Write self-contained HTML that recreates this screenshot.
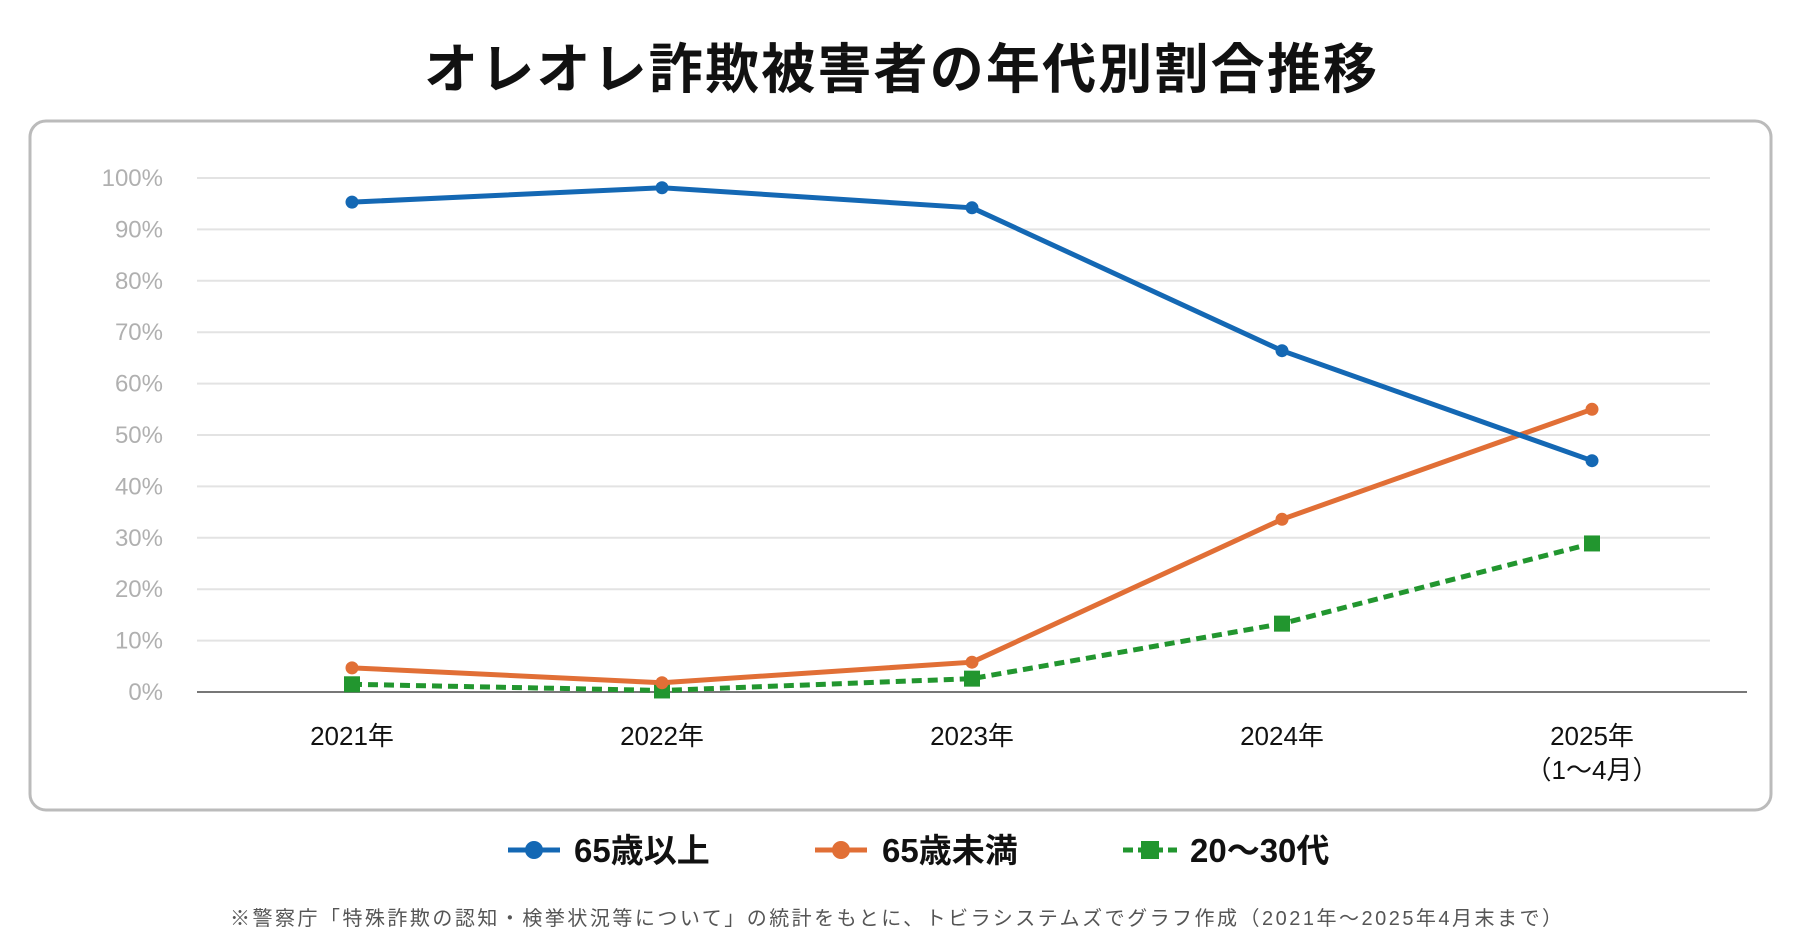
<!DOCTYPE html>
<html><head><meta charset="utf-8"><style>
body{margin:0;width:1800px;height:945px;background:#fff;overflow:hidden;font-family:"Liberation Sans","Noto Sans CJK JP",sans-serif;}
</style></head><body>
<svg width="1800" height="945" xmlns="http://www.w3.org/2000/svg" font-family="Liberation Sans, Noto Sans CJK JP, sans-serif">
<text x="424" y="88" textLength="953" lengthAdjust="spacing" font-size="54" font-weight="bold" fill="#111">オレオレ詐欺被害者の年代別割合推移</text>
<rect x="30" y="121" width="1741" height="689" rx="16" fill="#fff" stroke="#bbb" stroke-width="3"/>
<g id="grid"></g><g id="lines"></g>
<g font-size="33" font-weight="bold" fill="#111">
<g><line x1="508" y1="850" x2="560" y2="850" stroke="#1468b4" stroke-width="5"/><circle cx="534" cy="850" r="9" fill="#1468b4"/><text x="574" y="862">65歳以上</text></g>
<g><line x1="815" y1="850" x2="867" y2="850" stroke="#e16f36" stroke-width="5"/><circle cx="841" cy="850" r="9" fill="#e16f36"/><text x="882" y="862">65歳未満</text></g>
<g><line x1="1123" y1="850" x2="1177" y2="850" stroke="#22962f" stroke-width="5" stroke-dasharray="10,5"/><rect x="1141" y="841" width="18" height="18" fill="#22962f"/><text x="1190" y="862">20～30代</text></g>
</g>
<text x="230" y="925" textLength="1332" lengthAdjust="spacing" font-size="20" fill="#555">※警察庁「特殊詐欺の認知・検挙状況等について」の統計をもとに、トビラシステムズでグラフ作成（2021年～2025年4月末まで）</text>
</svg>
<script>
const categories=["2021年","2022年","2023年","2024年","2025年"];
const subLabels=["","","","","（1～4月）"];
const over65=[95.3,98.1,94.2,66.4,45.0];
const under65=[4.7,1.8,5.8,33.6,55.0];
const age2030=[1.5,0.3,2.6,13.3,28.9];
const yTicks=[0,10,20,30,40,50,60,70,80,90,100];
const NS="http://www.w3.org/2000/svg";
const x=i=>352+i*310;
const y=v=>692-v*5.14;
function mk(tag,attrs,parent){const e=document.createElementNS(NS,tag);for(const k in attrs)e.setAttribute(k,attrs[k]);parent.appendChild(e);return e;}
const grid=document.getElementById('grid');
yTicks.forEach(t=>{
 if(t>0){const g=mk('line',{x1:197,x2:1710,y1:y(t),y2:y(t),stroke:'#e3e3e3','stroke-width':2},grid);
 
 }
 const tx=mk('text',{x:163,y:y(t)+8,'text-anchor':'end','font-size':24,fill:'#b0b0b0'},grid);
 tx.textContent=t+'%';
 
 
});
const ax=mk('line',{x1:197,x2:1747,y1:y(0),y2:y(0),stroke:'#777','stroke-width':2},grid);


categories.forEach((c,i)=>{
 const t=mk('text',{x:x(i),y:745,'text-anchor':'middle','font-size':26,fill:'#111'},grid);
 t.textContent=c;
 
 
 if(subLabels[i]){const s=mk('text',{x:x(i),y:779,'text-anchor':'middle','font-size':26,fill:'#111'},grid);
 s.textContent=subLabels[i];
 
 }
});
const L=document.getElementById('lines');
function series(data,color,name,dash,square){
 const p=mk('polyline',{points:data.map((v,i)=>x(i)+','+y(v)).join(' '),fill:'none',stroke:color,'stroke-width':5,'stroke-linejoin':'round'},L);
 if(dash)p.setAttribute('stroke-dasharray','10,6');
 
 
 data.forEach((v,i)=>{
  const m=square?mk('rect',{x:x(i)-8,y:y(v)-8,width:16,height:16,fill:color},L):mk('circle',{cx:x(i),cy:y(v),r:6.5,fill:color},L);
  
  
 });
}
series(age2030,'#22962f','age-20-30s',true,true);
series(under65,'#e16f36','under-65',false,false);
series(over65,'#1468b4','over-65',false,false);
</script>
</body></html>
